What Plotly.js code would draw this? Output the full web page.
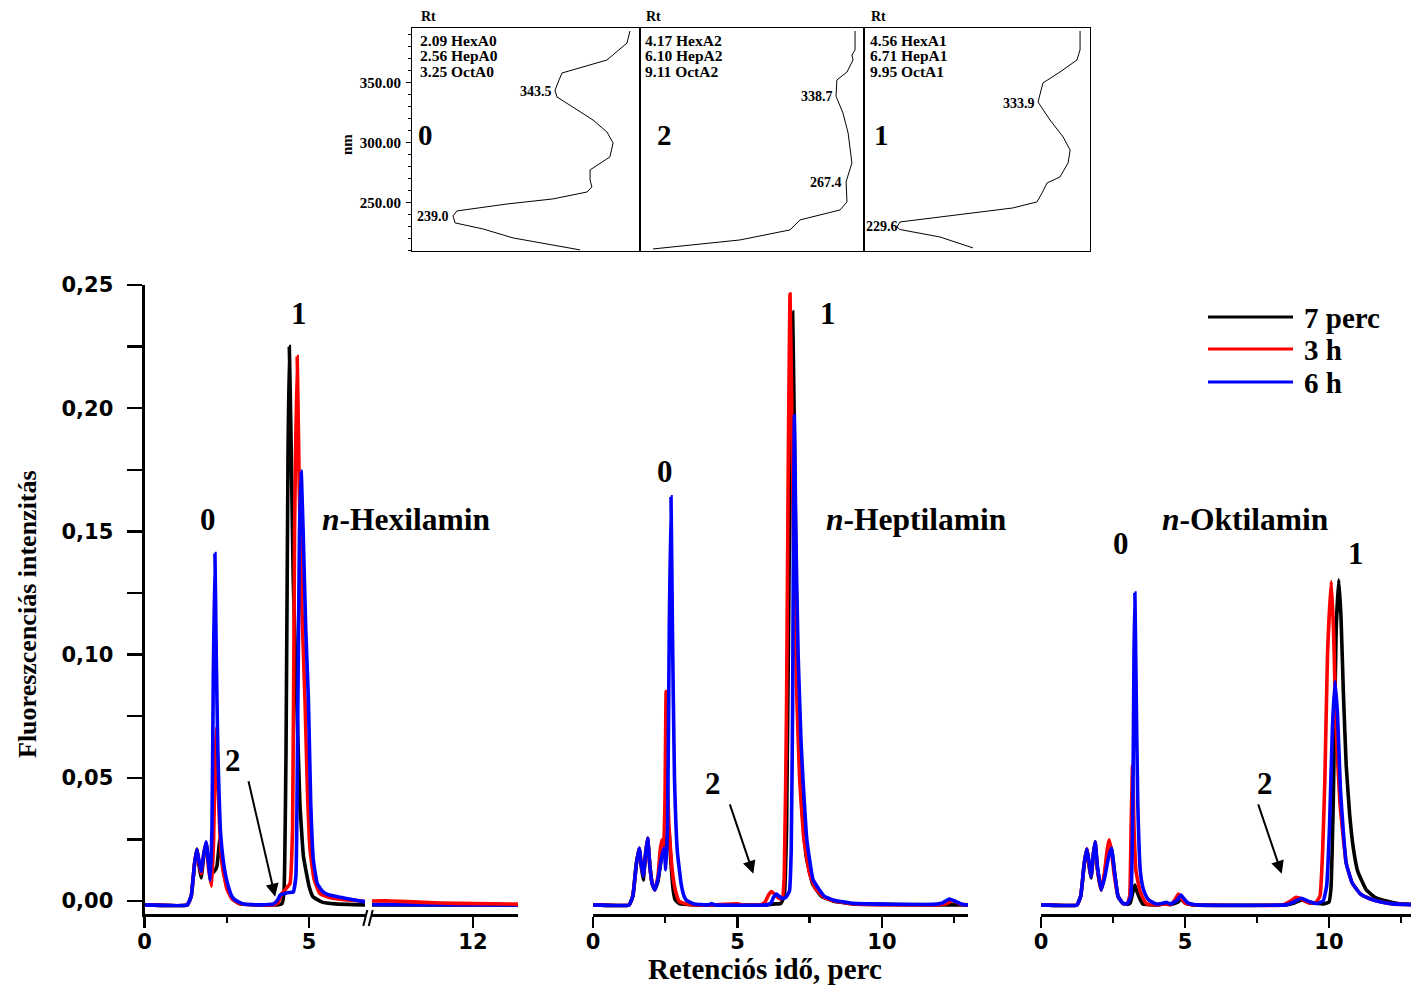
<!DOCTYPE html>
<html><head><meta charset="utf-8">
<script src="https://cdn.plot.ly/plotly-3.0.1.min.js"></script>
<style>html,body{margin:0;padding:0;background:#fff;} #chart{width:1411px;height:987px;}</style>
</head><body><div id="chart"></div>
<script>
// ---------------- DATA ----------------
const seriesNames = ['7 perc', '3 h', '6 h'];
const seriesColors = ['#000000', '#ff0000', '#0000ff'];

// n-Hexilamin (retention time, min ; intensity)
const hexT_7p = [0,1.3,1.42,1.52,1.59,1.66,1.72,1.8,1.87,1.95,2.02,2.12,2.2,2.29,2.36,2.45,2.55,2.7,2.9,3.3,4.0,4.18,4.24,4.3,4.36,4.40,4.45,4.52,4.63,4.72,4.83,5.0,5.12,5.4,5.8,6.7];
const hexV_7p = [-0.0016,-0.0016,0.002,0.015,0.021,0.014,0.0093,0.018,0.0237,0.016,0.011,0.012,0.014,0.025,0.016,0.009,0.004,0.0005,-0.0012,-0.0016,-0.0016,-0.001,0.004,0.06,0.18,0.225,0.19,0.13,0.08,0.04,0.018,0.006,0.0017,-0.0005,-0.0012,-0.0016];
const hexT_3h = [0,1.3,1.42,1.52,1.59,1.66,1.72,1.8,1.87,1.95,2.04,2.1,2.15,2.19,2.24,2.3,2.38,2.5,2.65,2.9,3.5,3.9,4.05,4.17,4.3,4.42,4.5,4.56,4.64,4.7,4.78,4.88,4.95,5.03,5.15,5.33,5.6,5.94,6.7];
const hexV_3h = [-0.0016,-0.0016,0.002,0.015,0.021,0.015,0.011,0.019,0.0237,0.013,0.006,0.025,0.06,0.0706,0.045,0.025,0.013,0.005,0.001,-0.0012,-0.0016,-0.0016,-0.0008,0.003,0.005,0.007,0.03,0.15,0.221,0.17,0.12,0.08,0.045,0.0207,0.009,0.003,0.0015,0.0007,-0.0002];
const hexT_6h = [0,1.3,1.42,1.52,1.59,1.66,1.72,1.8,1.87,1.94,2.0,2.05,2.09,2.14,2.18,2.23,2.3,2.39,2.47,2.55,2.65,2.75,3.0,3.5,3.92,4.05,4.12,4.25,4.37,4.52,4.6,4.66,4.71,4.76,4.82,4.9,4.98,5.05,5.13,5.25,5.4,5.54,5.9,6.3,6.7];
const hexV_6h = [-0.0016,-0.0016,0.002,0.015,0.021,0.016,0.012,0.019,0.024,0.016,0.0085,0.03,0.09,0.141,0.1,0.06,0.03,0.0166,0.01,0.0058,0.002,0.0004,-0.0012,-0.0016,-0.0012,0.0005,0.0024,0.003,0.0034,0.0036,0.01,0.08,0.15,0.1745,0.15,0.11,0.082,0.04,0.0166,0.007,0.004,0.0028,0.0016,0.0006,-0.0004];
// n-Hexilamin, after the axis break
const hexBrkT_7p = [8.93,10.5,13.37];
const hexBrkV_7p = [-0.0016,-0.0016,-0.0016];
const hexBrkT_3h = [8.93,9.5,10.5,11.5,13.37];
const hexBrkV_3h = [0.0,0.0,-0.0006,-0.001,-0.0013];
const hexBrkT_6h = [8.93,10.5,13.37];
const hexBrkV_6h = [-0.0014,-0.0015,-0.0016];

// n-Heptilamin
const hepT_7p = [0,1.25,1.38,1.5,1.6,1.67,1.74,1.82,1.89,1.97,2.05,2.14,2.25,2.35,2.46,2.55,2.62,2.7,2.78,2.84,3.0,3.5,6.0,6.3,6.5,6.62,6.7,6.8,6.91,6.96,7.03,7.12,7.22,7.38,7.6,7.9,8.3,9.0,12.98];
const hepV_7p = [-0.0016,-0.0016,0.002,0.015,0.0214,0.014,0.0085,0.019,0.0254,0.014,0.007,0.0045,0.008,0.016,0.022,0.025,0.03,0.015,0.004,0.0005,-0.0012,-0.0016,-0.0016,-0.0012,-0.001,0.002,0.03,0.15,0.239,0.2,0.13,0.07,0.04,0.018,0.007,0.002,0.0,-0.0012,-0.0016];
const hepT_3h = [0,1.25,1.38,1.5,1.6,1.67,1.74,1.82,1.89,1.97,2.05,2.14,2.25,2.32,2.38,2.44,2.49,2.53,2.57,2.63,2.72,2.82,2.92,2.99,3.3,4.0,5.0,5.2,5.8,5.95,6.08,6.18,6.3,6.45,6.55,6.62,6.7,6.76,6.82,6.88,6.95,7.05,7.15,7.3,7.5,7.7,8.0,8.3,9.0,11.8,12.2,12.45,12.7,12.98];
const hepV_3h = [-0.0016,-0.0016,0.002,0.015,0.0214,0.015,0.0099,0.019,0.0254,0.014,0.007,0.0045,0.01,0.02,0.0248,0.02,0.04,0.085,0.05,0.03,0.015,0.006,0.0015,-0.0003,-0.0014,-0.0016,-0.0012,-0.0016,-0.0016,-0.0005,0.0025,0.0038,0.0025,0.001,0.001,0.01,0.08,0.18,0.2463,0.2,0.14,0.085,0.05,0.025,0.011,0.005,0.0015,0.0002,-0.0012,-0.0016,-0.0012,0.0001,-0.0012,-0.0016];
const hepT_6h = [0,1.25,1.38,1.5,1.6,1.67,1.74,1.82,1.89,1.97,2.05,2.14,2.25,2.36,2.46,2.52,2.58,2.64,2.7,2.75,2.82,2.92,3.05,3.15,3.24,3.5,4.0,4.1,4.2,6.0,6.15,6.25,6.35,6.45,6.55,6.68,6.8,6.86,6.91,6.94,6.97,7.02,7.1,7.2,7.27,7.4,7.62,8.0,8.31,9.0,11.8,12.1,12.33,12.55,12.8,12.98];
const hepV_6h = [-0.0016,-0.0016,0.002,0.015,0.0214,0.015,0.0099,0.019,0.0254,0.014,0.007,0.0045,0.009,0.017,0.0214,0.0126,0.03,0.11,0.164,0.11,0.05,0.02,0.007,0.002,0.0002,-0.0012,-0.0016,-0.0011,-0.0016,-0.0016,-0.001,0.0015,0.0028,0.0018,0.001,0.0015,0.004,0.02,0.08,0.15,0.197,0.15,0.1,0.065,0.049,0.025,0.0085,0.002,0.0004,-0.001,-0.0014,-0.0008,0.0008,-0.0002,-0.0014,-0.0016];

// n-Oktilamin
const oktT_7p = [0,1.25,1.38,1.5,1.59,1.67,1.74,1.82,1.88,1.96,2.09,2.2,2.3,2.45,2.55,2.68,2.85,3.0,3.1,3.18,3.26,3.33,3.43,3.53,4.0,4.3,4.5,4.75,4.85,5.0,5.3,8.5,8.8,9.05,9.3,9.8,10.0,10.07,10.15,10.25,10.34,10.42,10.5,10.6,10.72,10.84,11.0,11.3,11.6,12.0,12.4,12.85];
const oktV_7p = [-0.0016,-0.0016,0.002,0.015,0.0211,0.014,0.0093,0.019,0.024,0.013,0.0045,0.01,0.018,0.0214,0.012,0.0017,-0.001,-0.0014,-0.0008,0.003,0.0065,0.004,0.001,-0.0012,-0.0016,-0.0012,-0.0015,-0.0005,0.0008,-0.0008,-0.0016,-0.0016,-0.0008,0.0004,-0.0006,-0.0012,-0.0005,0.005,0.04,0.11,0.1303,0.115,0.085,0.055,0.035,0.022,0.012,0.0045,0.0015,0.0,-0.001,-0.0014];
const oktT_3h = [0,1.25,1.38,1.5,1.59,1.67,1.74,1.82,1.88,1.96,2.09,2.2,2.3,2.37,2.45,2.55,2.68,2.85,3.0,3.08,3.13,3.18,3.23,3.3,3.44,3.55,3.67,4.0,4.3,4.5,4.65,4.77,4.88,5.0,5.3,8.4,8.65,8.86,9.05,9.3,9.55,9.69,9.78,9.86,9.95,10.08,10.16,10.25,10.38,10.6,10.8,11.08,11.4,11.74,12.2,12.85];
const oktV_3h = [-0.0016,-0.0016,0.002,0.015,0.0211,0.015,0.0099,0.019,0.024,0.013,0.0045,0.011,0.021,0.0248,0.02,0.01,0.0017,-0.001,-0.0012,0.002,0.03,0.055,0.03,0.012,0.004,0.001,-0.0012,-0.0016,-0.0012,-0.0014,0.0005,0.0028,0.001,-0.0008,-0.0016,-0.0016,-0.0002,0.0015,0.0008,-0.0008,-0.0005,0.002,0.02,0.05,0.1,0.1296,0.11,0.07,0.04,0.0153,0.0075,0.003,0.001,-0.0002,-0.0012,-0.0015];
const oktT_6h = [0,1.25,1.38,1.5,1.59,1.67,1.74,1.82,1.88,1.96,2.09,2.22,2.35,2.45,2.55,2.68,2.85,3.0,3.12,3.19,3.23,3.26,3.3,3.36,3.45,3.55,3.65,3.76,4.0,4.2,4.35,4.5,4.72,4.86,4.97,5.1,5.4,8.5,8.75,9.04,9.3,9.6,9.8,9.92,10.02,10.12,10.21,10.3,10.4,10.5,10.6,10.8,11.08,11.4,11.74,12.2,12.85];
const oktV_6h = [-0.0016,-0.0016,0.002,0.015,0.0211,0.016,0.0099,0.019,0.024,0.014,0.0045,0.01,0.018,0.0214,0.012,0.0017,-0.001,-0.0012,0.002,0.04,0.1,0.125,0.09,0.04,0.012,0.005,0.002,0.0002,-0.0012,-0.001,-0.0006,-0.0012,0.0002,0.0024,0.0008,-0.0008,-0.0016,-0.0016,-0.0006,0.0011,-0.0002,-0.001,0.0,0.006,0.03,0.07,0.089,0.075,0.045,0.028,0.0153,0.0075,0.003,0.001,-0.0002,-0.0012,-0.0015];

// Inset UV spectra (relative absorbance ; wavelength, nm)
const specAbs_A0 = [0.956,0.943,0.855,0.658,0.645,0.627,0.636,0.706,0.794,0.855,0.882,0.868,0.811,0.781,0.781,0.789,0.768,0.618,0.417,0.197,0.180,0.189,0.311,0.443,0.737];
const specNm_A0  = [393.1,383.1,368.9,358.1,352.3,343.5,338.1,329.8,318.9,308.9,299.8,288.1,281.4,277.3,268.9,263.1,258.9,253.1,248.9,243.1,239.0,233.1,228.1,220.6,210.6];
const specAbs_A2 = [0.960,0.960,0.946,0.951,0.924,0.879,0.875,0.906,0.929,0.938,0.946,0.920,0.924,0.893,0.714,0.670,0.446,0.058];
const specNm_A2  = [393.1,377.3,373.1,368.9,358.9,352.3,338.7,324.8,308.1,293.9,283.1,267.4,250.6,243.9,235.6,227.3,218.9,211.4];
const specAbs_A1 = [0.956,0.956,0.942,0.867,0.792,0.770,0.823,0.881,0.912,0.903,0.867,0.810,0.788,0.765,0.659,0.336,0.159,0.146,0.159,0.336,0.482];
const specNm_A1  = [393.1,377.3,368.9,358.9,349.8,333.9,318.9,304.8,293.9,283.1,271.4,266.4,258.1,250.6,245.6,238.1,233.9,229.6,227.6,221.4,212.3];

const insetRt_A0 = ['2.09  HexA0','2.56  HepA0','3.25  OctA0'];
const insetRt_A2 = ['4.17  HexA2','6.10  HepA2','9.11  OctA2'];
const insetRt_A1 = ['4.56  HexA1','6.71  HepA1','9.95  OctA1'];
const insetPeakLabels = ['343.5','239.0','338.7','267.4','333.9','229.6'];

// Tick labels
const mainYTickVals = [0,0.05,0.10,0.15,0.20,0.25];
const mainYTickText = ['0,00','0,05','0,10','0,15','0,20','0,25'];
const insetYTickVals = [250,300,350];
const insetYTickText = ['250.00','300.00','350.00'];
const hexBrkTickVals = [12];
const hexBrkTickText = ['12'];

// ---------------- LAYOUT HELPERS ----------------
const W = 1411, H = 987;
const px = x => x / W;
const py = y => 1 - y / H;
const SERIF = '"Liberation Serif", "Times New Roman", serif';
const SANS = '"DejaVu Sans", Arial, sans-serif';

function chrom(t, v, i, xa) {
  return {x: t, y: v, type: 'scatter', mode: 'lines', name: seriesNames[i],
    xaxis: xa, yaxis: 'y', showlegend: false, hoverinfo: 'skip',
    line: {color: seriesColors[i], width: 3.6, shape: 'spline', smoothing: 0.35}};
}
function spec(a, n, xa, ya) {
  return {x: a, y: n, type: 'scatter', mode: 'lines', xaxis: xa, yaxis: ya, showlegend: false,
    hoverinfo: 'skip', line: {color: '#000', width: 1}};
}

const traces = [
  chrom(hexT_7p, hexV_7p, 0, 'x'), chrom(hexT_3h, hexV_3h, 1, 'x'), chrom(hexT_6h, hexV_6h, 2, 'x'),
  chrom(hexBrkT_7p, hexBrkV_7p, 0, 'x4'), chrom(hexBrkT_6h, hexBrkV_6h, 2, 'x4'), chrom(hexBrkT_3h, hexBrkV_3h, 1, 'x4'),
  chrom(hepT_7p, hepV_7p, 0, 'x2'), chrom(hepT_3h, hepV_3h, 1, 'x2'), chrom(hepT_6h, hepV_6h, 2, 'x2'),
  chrom(oktT_7p, oktV_7p, 0, 'x3'), chrom(oktT_3h, oktV_3h, 1, 'x3'), chrom(oktT_6h, oktV_6h, 2, 'x3'),
  spec(specAbs_A0, specNm_A0, 'x5', 'y2'),
  spec(specAbs_A2, specNm_A2, 'x6', 'y3'),
  spec(specAbs_A1, specNm_A1, 'x7', 'y4')
];

const xTickFont = {family: SANS, size: 21, color: '#000', weight: 'bold'};
function mainX(domain, range, extra) {
  return Object.assign({
    domain: domain, range: range, anchor: 'y', showline: true, linewidth: 3, linecolor: '#000',
    ticks: 'outside', ticklen: 11, tickwidth: 2.5, tickcolor: '#000', tick0: 0, dtick: 5,
    ticklabelstandoff: -4,
    minor: {ticks: 'outside', dtick: 2.5, tick0: 0, ticklen: 6, tickwidth: 2.5, tickcolor: '#000'},
    showgrid: false, zeroline: false, tickfont: xTickFont, fixedrange: true
  }, extra || {});
}
function insetX(domain, ya) {
  return {domain: domain, range: [0, 1], anchor: ya, showline: true, mirror: true, linewidth: 1,
    linecolor: '#000', ticks: '', showticklabels: false, showgrid: false, zeroline: false};
}
function insetY(xa, show) {
  const o = {domain: [py(251), py(28)], range: [209.7, 395.6], anchor: xa, showline: true, mirror: true,
    linewidth: 1, linecolor: '#000', showgrid: false, zeroline: false};
  if (show) {
    Object.assign(o, {tickmode: 'array', tickvals: insetYTickVals, ticktext: insetYTickText,
      ticks: 'outside', ticklen: 5, tickwidth: 1, tickcolor: '#000',
      minor: {ticks: 'outside', dtick: 10, tick0: 200, ticklen: 3, tickwidth: 1, tickcolor: '#000'},
      tickfont: {family: SERIF, size: 15, color: '#000', weight: 'bold'}, ticklabelstandoff: 2});
  } else {
    Object.assign(o, {ticks: '', showticklabels: false});
  }
  return o;
}

function txt(text, x, y, size, opts) {
  return Object.assign({text: text, xref: 'paper', yref: 'paper', x: px(x), y: py(y), showarrow: false,
    xanchor: 'center', yanchor: 'middle', font: {family: SERIF, size: size, color: '#000'}}, opts || {});
}
function arrow(xa, t, v, ax, ay) {
  return {text: '', xref: xa, yref: 'y', x: t, y: v, ax: ax, ay: ay, showarrow: true,
    arrowhead: 2, arrowsize: 1.3, arrowwidth: 2, arrowcolor: '#000', standoff: 0};
}

const annotations = [
  // panel labels
  txt('<b>0</b>', 208, 519, 31), txt('<b>1</b>', 299, 313, 31), txt('<b>2</b>', 233, 760, 31),
  txt('<b><i>n</i>-Hexilamin</b>', 406, 519, 31.5),
  txt('<b>0</b>', 665, 471, 31), txt('<b>1</b>', 828, 313, 31), txt('<b>2</b>', 713, 783, 31),
  txt('<b><i>n</i>-Heptilamin</b>', 916, 519, 31.5),
  txt('<b>0</b>', 1121, 543, 31), txt('<b>1</b>', 1356, 553, 31), txt('<b>2</b>', 1265, 783, 31),
  txt('<b><i>n</i>-Oktilamin</b>', 1245, 519, 31.5),
  // arrows to peak 2
  arrow('x', 3.97, 0.0017, -27, -117),
  arrow('x2', 5.55, 0.011, -24, -71),
  arrow('x3', 8.36, 0.011, -24, -71),
  // axis titles
  txt('<b>Retenciós idő, perc</b>', 765, 969, 29),
  txt('<b>Fluoreszcenciás intenzitás</b>', 27, 614, 26, {textangle: -90}),
  // legend
  txt('<b>' + seriesNames[0] + '</b>', 1302, 318, 29, {xanchor: 'left'}),
  txt('<b>' + seriesNames[1] + '</b>', 1302, 350, 29, {xanchor: 'left'}),
  txt('<b>' + seriesNames[2] + '</b>', 1302, 383, 29, {xanchor: 'left'}),
  // inset texts
  txt('<b>Rt</b>', 419, 17, 14, {xanchor: 'left'}),
  txt('<b>Rt</b>', 644, 17, 14, {xanchor: 'left'}),
  txt('<b>Rt</b>', 869, 17, 14, {xanchor: 'left'}),
  txt('<b>nm</b>', 347, 145, 15, {textangle: -90}),
  txt('<b>0</b>', 425, 135, 29), txt('<b>2</b>', 664, 135, 29), txt('<b>1</b>', 881, 135, 29),
  txt('<b>' + insetPeakLabels[0] + '</b>', 554, 91, 14, {xanchor: 'right'}),
  txt('<b>' + insetPeakLabels[1] + '</b>', 415, 216, 14, {xanchor: 'left'}),
  txt('<b>' + insetPeakLabels[2] + '</b>', 835, 97, 14, {xanchor: 'right'}),
  txt('<b>' + insetPeakLabels[3] + '</b>', 844, 182, 14, {xanchor: 'right'}),
  txt('<b>' + insetPeakLabels[4] + '</b>', 1037, 103, 14, {xanchor: 'right'}),
  txt('<b>' + insetPeakLabels[5] + '</b>', 864, 226, 14, {xanchor: 'left'})
];
const rtSets = [[insetRt_A0, 418], [insetRt_A2, 643], [insetRt_A1, 868]];
rtSets.forEach(([lines, x0]) => {
  lines.forEach((s, k) => {
    annotations.push(txt('<b>' + s.replace('  ', '&nbsp;') + '</b>', x0, 40 + k * 15.5, 15.5, {xanchor: 'left'}));
  });
});

const shapes = [];
// legend line samples
[317, 349, 382].forEach((y, i) => {
  shapes.push({type: 'line', xref: 'paper', yref: 'paper', x0: px(1208), x1: px(1293), y0: py(y), y1: py(y),
    line: {color: seriesColors[i], width: 3}});
});
// axis break marks
[[363.3, 367.3], [368.7, 372.7]].forEach(([a, b]) => {
  shapes.push({type: 'line', xref: 'paper', yref: 'paper', x0: px(a), x1: px(b), y0: py(926), y1: py(910),
    line: {color: '#000', width: 2}});
});

const layout = {
  width: W, height: H, margin: {l: 0, r: 0, t: 0, b: 0},
  paper_bgcolor: '#fff', plot_bgcolor: 'rgba(0,0,0,0)', showlegend: false,
  font: {family: SERIF, color: '#000'},
  yaxis: {domain: [py(914), py(285)], range: [-0.0053, 0.25], anchor: 'x', showline: true, linewidth: 3,
    linecolor: '#000', tickmode: 'array', tickvals: mainYTickVals, ticktext: mainYTickText,
    ticks: 'outside', ticklen: 15, tickwidth: 2.5, tickcolor: '#000', ticklabelstandoff: 9,
    minor: {ticks: 'outside', dtick: 0.025, tick0: 0, ticklen: 15, tickwidth: 2.5, tickcolor: '#000'},
    tickfont: {family: SANS, size: 21, color: '#000', weight: 'bold'},
    showgrid: false, zeroline: false, fixedrange: true},
  xaxis: mainX([px(144.5), px(365)], [0, 6.70]),
  xaxis4: mainX([px(372), px(518)], [8.93, 13.37], {tickmode: 'array', tickvals: hexBrkTickVals, ticktext: hexBrkTickText, minor: {ticks: ''}}),
  xaxis2: mainX([px(593), px(968)], [0, 12.98]),
  xaxis3: mainX([px(1041), 1], [0, 12.85]),
  xaxis5: insetX([px(412), px(640)], 'y2'),
  xaxis6: insetX([px(640), px(864)], 'y3'),
  xaxis7: insetX([px(864), px(1090)], 'y4'),
  yaxis2: insetY('x5', true),
  yaxis3: insetY('x6', false),
  yaxis4: insetY('x7', false),
  annotations: annotations,
  shapes: shapes
};

Plotly.newPlot('chart', traces, layout, {staticPlot: true, displayModeBar: false});
</script></body></html>
